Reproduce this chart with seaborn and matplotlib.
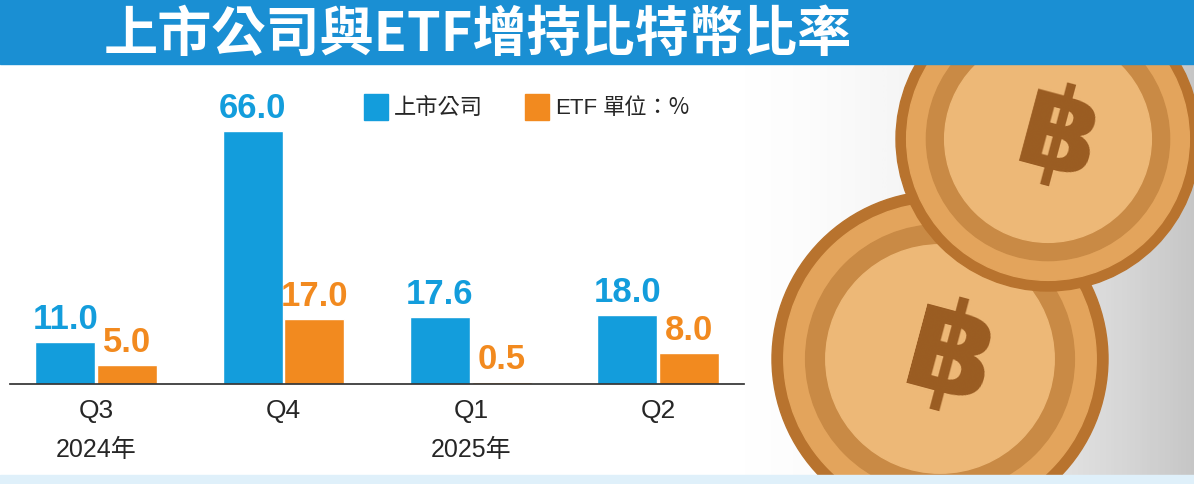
import matplotlib
matplotlib.use("Agg")
import numpy as np
import pandas as pd
import matplotlib.pyplot as plt
from matplotlib.patches import Rectangle, Circle
import seaborn as sns

sns.set_theme(style="white")
plt.rcParams["font.family"] = ["Noto Sans CJK TC", "DejaVu Sans"]

ORANGE = "#f28a1f"
BAR_BLUE = "#139ddc"
NUM_FONT = "Liberation Sans"

quarters = ["Q3", "Q4", "Q1", "Q2"]
years = ["2024年", "", "2025年", ""]
listed = [11.0, 66.0, 17.6, 18.0]
etf = [5.0, 17.0, 0.5, 8.0]
series = ["上市公司", "ETF"]

df = pd.DataFrame({
    "quarter": quarters * 2,
    "group": [series[0]] * 4 + [series[1]] * 4,
    "value": listed + etf,
})

fig = plt.figure(figsize=(11.94, 4.85), dpi=100)

# decorative background + coins
bg = fig.add_axes([0, 0, 1, 1])
bg.set_xlim(0, 1194)
bg.set_ylim(485, 0)
bg.axis("off")
grad = np.linspace(0, 1, 200)[None, :] ** 1.5
bg.imshow(grad, extent=(720, 1194, 485, 0), cmap="Greys", vmin=0, vmax=3, aspect="auto")
for cx, cy, r in [(940, 360, 168), (1048, 140, 152)]:
    bg.add_patch(Circle((cx, cy), r, color="#b8732e"))
    bg.add_patch(Circle((cx, cy), r * 0.93, color="#e3a45c"))
    bg.add_patch(Circle((cx, cy), r * 0.8, color="#c98a45"))
    bg.add_patch(Circle((cx, cy), r * 0.68, color="#edb877"))
    bg.text(cx + 10, cy, "฿", fontsize=r * 0.55, color="#9a5c22", ha="center", va="center",
            fontweight="bold", family="DejaVu Sans", rotation=-15)
bg.add_patch(Rectangle((0, 0), 1194, 65, color="#1a8fd3"))
bg.add_patch(Rectangle((0, 476), 1194, 9, color="#dff0fa"))
bg.text(478, 35, "上市公司與ETF增持比特幣比率", fontsize=39, color="white",
        fontweight="bold", ha="center", va="center")

ax = fig.add_axes([0.0084, 0.206, 0.615, 0.649])
ax.patch.set_alpha(0)
sns.barplot(data=df, x="quarter", y="value", hue="group", order=quarters,
            palette=[BAR_BLUE, ORANGE], saturation=1, width=0.66, gap=0.03,
            legend=False, ax=ax)
ax.set_xlim(-0.46, 3.46)
ax.set_ylim(0, 82)
for cont, col in zip(ax.containers, [BAR_BLUE, ORANGE]):
    ax.bar_label(cont, fmt="%.1f", padding=5, color=col, fontsize=25,
                 fontweight="bold", family=NUM_FONT)
for s in ["top", "right", "left"]:
    ax.spines[s].set_visible(False)
ax.spines["bottom"].set_color("#333333")
ax.set_yticks([])
ax.set_xlabel("")
ax.set_ylabel("")
ax.set_xticks(range(4))
ax.set_xticklabels(quarters, fontsize=19, family=NUM_FONT)
ax.tick_params(axis="x", length=0, pad=10)
for i, y in enumerate(years):
    if y:
        ax.text(i, -17, y, fontsize=18, ha="center", va="center",
                family=[NUM_FONT, "Noto Sans CJK TC"])

# legend
bg.add_patch(Rectangle((364, 95), 24, 26, color=BAR_BLUE))
bg.text(394, 108, "上市公司", fontsize=16, va="center")
bg.add_patch(Rectangle((525, 95), 24, 26, color=ORANGE))
bg.text(555, 108, "ETF", fontsize=16, va="center", family=NUM_FONT)
bg.text(603, 108, "單位：%", fontsize=16, va="center")

fig.savefig("out.png", dpi=100)
